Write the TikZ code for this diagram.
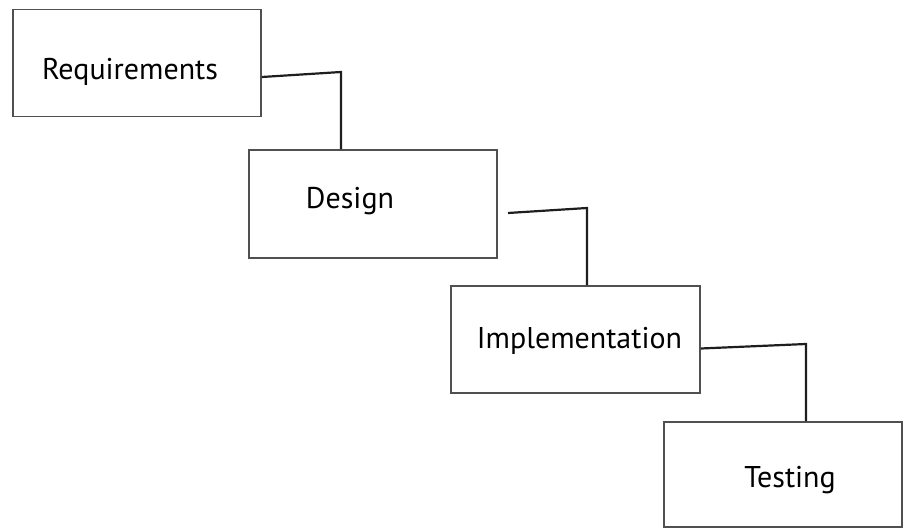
\documentclass[tikz,border=0pt]{standalone}
\usepackage{fontspec}
\setmainfont{PT Sans}
\usetikzlibrary{calc}
\definecolor{boxgray}{RGB}{80,80,80}
\definecolor{linkblack}{RGB}{30,30,30}
\tikzset{
  stagebox/.style={draw=boxgray,line width=1.8pt,fill=white,inner sep=0pt},
  linkline/.style={draw=linkblack,line width=2.2pt},
  stagefont/.style={font=\fontsize{30}{34}\selectfont},
}
% #1 name, #2 x, #3 y, #4 width, #5 height, #6 text, #7 dx, #8 dy
\newcommand{\stage}[8]{%
  \node[stagebox,minimum width=#4,minimum height=#5,
        label={[stagefont,xshift=#7,yshift=#8]center:#6}] (#1) at (#2,#3) {};}

\begin{document}
\begin{tikzpicture}[x=1pt,y=1pt]
  \useasboundingbox (0,0) rectangle (904,-529);
  \stage{req}{137}{-63}{248pt}{107pt}{Requirements}{-7pt}{-9pt}
  \stage{des}{373}{-204}{248pt}{108pt}{Design}{-23pt}{3pt}
  \stage{imp}{575.5}{-339.5}{249pt}{107pt}{Implementation}{4pt}{-1pt}
  \stage{tst}{783}{-474.5}{238pt}{105pt}{Testing}{7pt}{-6pt}
  % bends
  \coordinate (b1) at (341,-72);
  \coordinate (s2) at (508,-213);
  \coordinate (b2) at (587,-208);
  \coordinate (b3) at (806,-344);
  \draw[linkline] ([yshift=-14pt]req.east) -- (b1) -- (b1 |- des.north);
  \draw[linkline] (s2) -- (b2) -- (b2 |- imp.north);
  \draw[linkline] ([yshift=-9pt]imp.east) -- (b3) -- (b3 |- tst.north);
\end{tikzpicture}
\end{document}
